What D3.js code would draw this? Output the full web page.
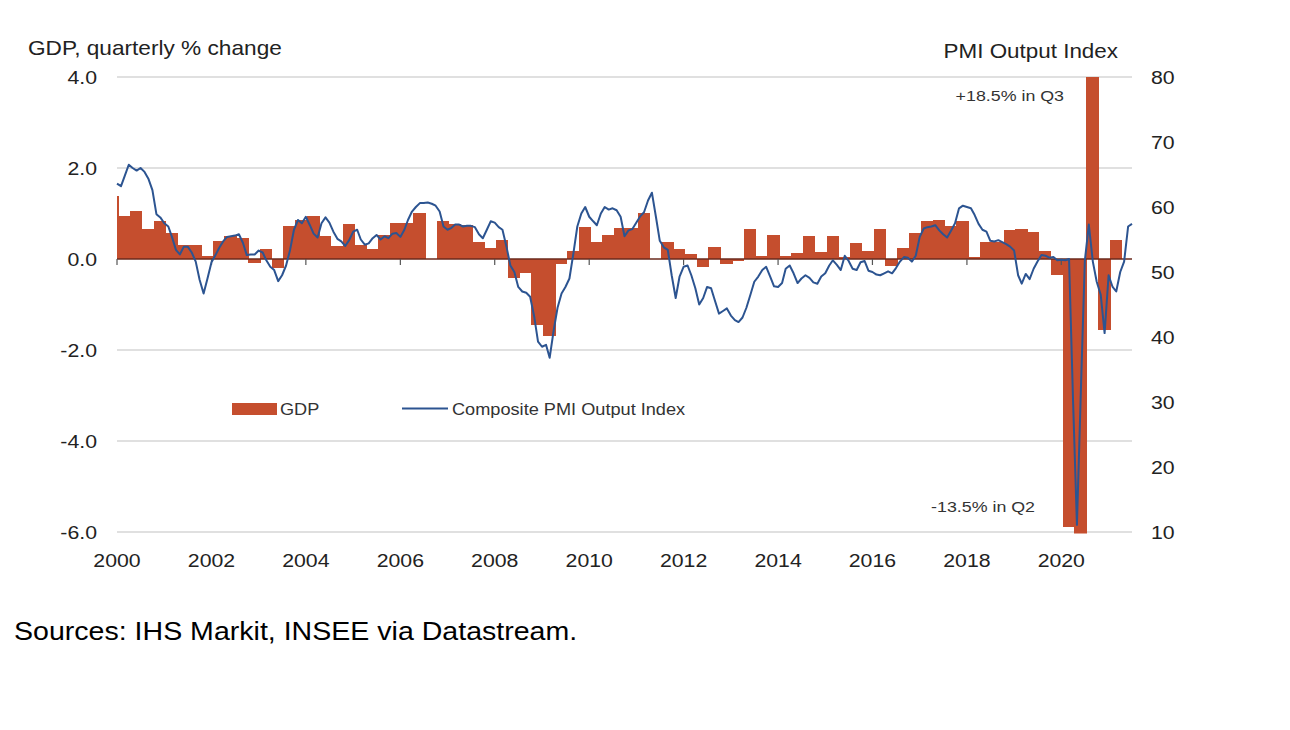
<!DOCTYPE html>
<html>
<head>
<meta charset="utf-8">
<script src="https://cdn.jsdelivr.net/npm/d3@7/dist/d3.min.js"></script>
<style>
  html, body { margin: 0; padding: 0; background: #ffffff; }
  svg { display: block; }
  text { font-family: "Liberation Sans", Arial, Helvetica, sans-serif; }
</style>
</head>
<body>
<svg id="chart" width="1290" height="730"></svg>
<script>
// ---------------- DATA ----------------
// Quarterly GDP % change, starting 1999 Q4 through 2021 Q1
const gdpStart = { year: 1999, quarter: 4 };
const gdpValues = [
  1.38,
  0.95, 1.05, 0.67, 0.84,   // 2000
  0.57, 0.31, 0.31, 0.06,   // 2001
  0.40, 0.51, 0.46, -0.09,  // 2002
  0.22, -0.20, 0.72, 0.86,  // 2003
  0.95, 0.50, 0.29, 0.77,   // 2004
  0.31, 0.22, 0.53, 0.80,   // 2005
  0.80, 1.01, 0.00, 0.84,   // 2006
  0.78, 0.75, 0.38, 0.24,   // 2007
  0.42, -0.42, -0.30, -1.45,// 2008
  -1.70, -0.10, 0.18, 0.70, // 2009
  0.38, 0.53, 0.68, 0.68,   // 2010
  1.01, 0.00, 0.37, 0.22,   // 2011
  0.12, -0.18, 0.26, -0.10, // 2012
  -0.04, 0.67, 0.06, 0.52,  // 2013
  0.06, 0.13, 0.50, 0.15,   // 2014
  0.50, 0.05, 0.35, 0.17,   // 2015
  0.66, -0.16, 0.24, 0.57,  // 2016
  0.83, 0.86, 0.72, 0.84,   // 2017
  0.05, 0.38, 0.38, 0.63,   // 2018
  0.65, 0.60, 0.18, -0.35,  // 2019
  -5.88, -13.5, 18.5, -1.55,// 2020
  0.42                      // 2021
];

// Monthly Composite PMI Output Index, Dec 1999 through Jun 2021
const pmiStart = { year: 1999, month: 12 };
const pmiValues = [
  63.6, 63.2, 64.8, 66.5, 66.0, 65.6, 66.0, 65.4, 64.3, 62.6, 58.9, 58.4,
  57.5, 57.0, 55.4, 53.4, 52.7, 53.9, 53.9, 53.0, 51.6, 48.8, 46.7, 49.0,
  51.5, 52.6, 53.7, 54.7, 55.4, 55.5, 55.6, 55.8, 54.5, 52.6, 52.7, 52.7,
  53.3, 53.0, 51.8, 50.8, 50.3, 48.6, 49.5, 51.0, 53.4, 56.5, 58.0, 57.5,
  58.5, 57.2, 55.9, 55.3, 57.5, 58.4, 57.6, 56.2, 55.1, 54.7, 54.0, 54.9,
  56.2, 56.5, 55.0, 54.2, 54.4, 55.2, 55.7, 55.0, 55.5, 55.2, 55.9, 56.0,
  55.4, 56.5, 58.0, 59.3, 60.0, 60.6, 60.6, 60.7, 60.5, 60.2, 59.3, 57.0,
  56.5, 56.8, 57.3, 57.3, 57.0, 57.1, 57.1, 56.9, 55.8, 55.2, 56.5, 57.8,
  57.6, 56.9, 56.5, 53.9, 51.0, 50.0, 47.7, 47.0, 46.8, 46.2, 43.2, 39.3,
  38.5, 38.8, 36.8, 41.0, 44.5, 46.7, 47.7, 49.0, 52.9, 57.0, 59.0, 60.0,
  58.5, 57.8, 57.2, 59.0, 60.0, 59.6, 59.8, 59.5, 58.5, 55.5, 56.4, 56.6,
  57.6, 58.6, 59.2, 61.0, 62.2, 58.5, 54.8, 53.8, 53.4, 49.5, 46.0, 49.3,
  50.8, 51.0, 49.5, 47.5, 45.0, 46.0, 47.7, 47.5, 45.5, 43.6, 44.0, 44.4,
  43.3, 42.6, 42.3, 43.0, 44.5, 46.5, 48.5, 49.3, 50.3, 50.8, 49.3, 47.8,
  47.7, 48.3, 50.5, 51.0, 49.8, 48.3, 49.0, 49.5, 49.1, 48.4, 48.2, 49.3,
  49.8, 51.0, 51.8, 51.1, 50.3, 52.5, 51.7, 50.5, 50.3, 51.5, 51.7, 50.2,
  50.0, 49.6, 49.5, 49.8, 50.1, 49.8, 50.6, 51.6, 52.3, 52.2, 51.6, 52.5,
  55.4, 56.7, 56.9, 57.0, 57.2, 56.4, 55.8, 55.3, 56.4, 57.5, 59.8, 60.2,
  60.0, 59.8, 58.8, 57.4, 56.5, 56.2, 54.8, 54.7, 54.9, 54.6, 54.3, 53.9,
  53.3, 49.5, 48.2, 49.7, 48.9, 50.5, 51.6, 52.6, 52.5, 52.2, 52.3, 51.8,
  51.9, 51.8, 52.0, 30.2, 11.1, 32.1, 51.7, 57.3, 51.6, 48.5, 46.5, 40.6,
  49.5, 47.7, 47.0, 50.0, 51.6, 57.0, 57.4
];

const leftTicks = [4, 2, 0, -2, -4, -6];
const rightTicks = [80, 70, 60, 50, 40, 30, 20, 10];
const yearTicks = [2000, 2002, 2004, 2006, 2008, 2010, 2012, 2014, 2016, 2018, 2020];

const leftTitle = "GDP, quarterly % change";
const rightTitle = "PMI Output Index";
const legendLabels = ["GDP", "Composite PMI Output Index"];
const annotations = [
  { text: "+18.5% in Q3", value: 18.5 },
  { text: "-13.5% in Q2", value: -13.5 }
];
const sourceText = "Sources: IHS Markit, INSEE via Datastream.";

// ---------------- LAYOUT ----------------
const plot = { left: 117, right: 1132, top: 77, bottom: 532 };
const barColor = "#c54e2e";
const lineColor = "#2c5491";
const textColor = "#222222";
const SX = 1.15; // horizontal stretch of the original lettering

const svg = d3.select("#chart");

const x = d3.scaleUtc()
  .domain([new Date(Date.UTC(2000, 0, 1)), new Date(Date.UTC(2021, 6, 1))])
  .range([plot.left, plot.right]);
const yL = d3.scaleLinear().domain([-6, 4]).range([plot.bottom, plot.top]);
const yR = d3.scaleLinear().domain([10, 80]).range([plot.bottom, plot.top]);

function label(g, px, py, str, size, anchor, color, sx) {
  g.append("g")
    .attr("transform", `translate(${px},${py}) scale(${sx || SX},1)`)
    .append("text")
    .attr("x", 0).attr("y", 0)
    .attr("font-size", size)
    .attr("text-anchor", anchor || "start")
    .attr("fill", color || textColor)
    .text(str);
}

// clip
svg.append("defs").append("clipPath").attr("id", "plotclip")
  .append("rect")
  .attr("x", plot.left).attr("y", plot.top)
  .attr("width", plot.right - plot.left).attr("height", plot.bottom - plot.top + 1.5);

// gridlines (left axis ticks except zero)
svg.append("g").selectAll("line")
  .data(leftTicks.filter(d => d !== 0))
  .join("line")
  .attr("x1", plot.left).attr("x2", plot.right)
  .attr("y1", d => yL(d)).attr("y2", d => yL(d))
  .attr("stroke", "#d6d6d6").attr("stroke-width", 1.5);

// bars
const quarterStart = i => new Date(Date.UTC(gdpStart.year, (gdpStart.quarter - 1) * 3 + i * 3, 1));
const quarterEnd = i => new Date(Date.UTC(gdpStart.year, (gdpStart.quarter - 1) * 3 + i * 3 + 3, 1));
const barShift = 1.3;
svg.append("g").attr("clip-path", "url(#plotclip)")
  .selectAll("rect")
  .data(gdpValues)
  .join("rect")
  .attr("x", (d, i) => x(quarterStart(i)) + barShift)
  .attr("width", (d, i) => x(quarterEnd(i)) - x(quarterStart(i)) + 0.6)
  .attr("y", d => Math.min(yL(d), yL(0)))
  .attr("height", d => Math.abs(yL(d) - yL(0)))
  .attr("fill", barColor)
  .attr("shape-rendering", "crispEdges");

// zero line
svg.append("line")
  .attr("x1", plot.left).attr("x2", plot.right)
  .attr("y1", yL(0)).attr("y2", yL(0))
  .attr("stroke", "#6a2a1c").attr("stroke-width", 1.5);

// x tick marks
svg.append("g").selectAll("line")
  .data(yearTicks)
  .join("line")
  .attr("x1", d => x(new Date(Date.UTC(d, 0, 1))))
  .attr("x2", d => x(new Date(Date.UTC(d, 0, 1))))
  .attr("y1", yL(0)).attr("y2", yL(0) + 6)
  .attr("stroke", "#555").attr("stroke-width", 1.2);

// PMI line (plotted at month end)
const monthEnd = i => new Date(Date.UTC(pmiStart.year, pmiStart.month - 1 + i + 1, 1));
const line = d3.line()
  .x((d, i) => x(monthEnd(i)))
  .y(d => yR(d))
  .curve(d3.curveLinear);
svg.append("path")
  .datum(pmiValues)
  .attr("d", line)
  .attr("fill", "none")
  .attr("stroke", lineColor)
  .attr("stroke-width", 2)
  .attr("stroke-linejoin", "round");

// axes labels
const axisG = svg.append("g");
leftTicks.forEach(t => label(axisG, 97, yL(t) + 6.8, t.toFixed(1), 18.5, "end"));
rightTicks.forEach(t => label(axisG, 1151, yR(t) + 6.8, String(t), 18.5, "start"));
yearTicks.forEach(t => label(axisG, x(new Date(Date.UTC(t, 0, 1))), 567, String(t), 18.5, "middle"));

// titles
label(svg, 28, 55, leftTitle, 19.7, "start");
label(svg, 1118, 58, rightTitle, 19.5, "end");

// annotations
label(svg, 1064, 101, annotations[0].text, 15.5, "end", "#333");
label(svg, 1035, 512, annotations[1].text, 15.5, "end", "#333");

// legend
const lg = svg.append("g");
lg.append("rect").attr("x", 232).attr("y", 403).attr("width", 45).attr("height", 12).attr("fill", barColor);
label(lg, 280, 415, legendLabels[0], 15.8, "start", "#333");
lg.append("line").attr("x1", 402).attr("x2", 448).attr("y1", 408.5).attr("y2", 408.5)
  .attr("stroke", lineColor).attr("stroke-width", 2);
label(lg, 452, 415, legendLabels[1], 15.8, "start", "#333");

// source
label(svg, 14, 640, sourceText, 25.5, "start", "#000", 1.12);
</script>
</body>
</html>
